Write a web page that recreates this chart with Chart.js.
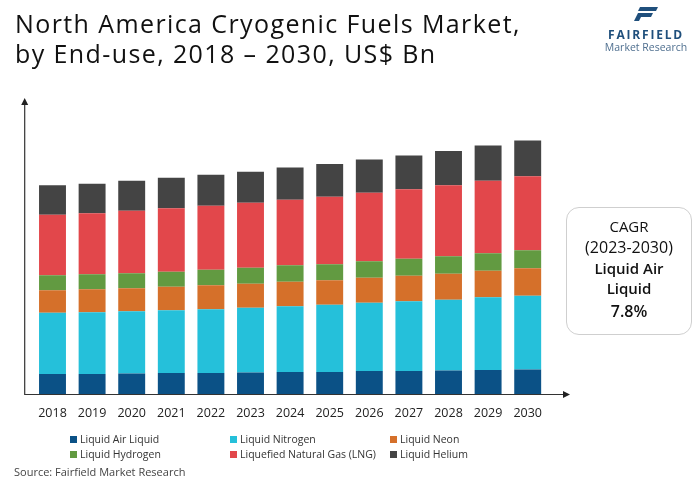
<!DOCTYPE html>
<html>
<head>
<meta charset="utf-8">
<script src="https://cdn.jsdelivr.net/npm/chart.js@4.4.0/dist/chart.umd.min.js"></script>
<style>
  body { margin: 0; background: #fff; font-family: "Open Sans", sans-serif; }
  #wrap { position: relative; width: 700px; height: 491px; overflow: hidden; }
  #chart { position: absolute; left: 0; top: 0; }
  .title { position: absolute; left: 15px; top: 8px; font-size: 25px; letter-spacing: 1.4px; line-height: 30px; color: #111; }
  .logo { position: absolute; left: 599px; top: 5px; width: 94px; text-align: center; }
  .logo .brand { font-size: 12px; font-weight: 700; letter-spacing: 1.8px; color: #1f4f7c; margin-top: 1px; line-height: 13px; }
  .logo .sub { font-size: 10.5px; color: #4f6f8f; line-height: 12px; }
  .cagr { position: absolute; left: 566px; top: 207px; width: 124px; height: 126px; border: 1px solid #cfcfcf; border-radius: 13px; text-align: center; color: #111; }
  .legend { position: absolute; left: 0; top: 432px; width: 700px; font-size: 10.5px; color: #333; }
  .legend .item { position: absolute; white-space: nowrap; line-height: 14px; }
  .legend .box { display: inline-block; width: 7px; height: 7px; margin-right: 3px; vertical-align: 0px; }
  .source { position: absolute; left: 14px; top: 464px; font-size: 11px; color: #444; }
</style>
</head>
<body>
<div id="wrap">
  <canvas id="chart" width="700" height="491"></canvas>
  <div class="title">North America Cryogenic Fuels Market,<br>by End-use, 2018 – 2030, US$ Bn</div>
  <div class="logo">
    <svg width="26" height="16" viewBox="0 0 26 16">
      <polygon points="7,1 25,1 23,5 5,5" fill="#1f4f7c"/>
      <polygon points="5,7 20,7 18,11 8,11 6,15 1,15" fill="#1f4f7c"/>
    </svg>
    <div class="brand">FAIRFIELD</div>
    <div class="sub">Market Research</div>
  </div>
  <div class="cagr">
    <div style="font-size:15px;margin-top:8px;line-height:20px;">CAGR</div>
    <div style="font-size:16px;line-height:22px;">(2023-2030)</div>
    <div style="font-size:15px;font-weight:600;line-height:20px;">Liquid Air</div>
    <div style="font-size:15px;font-weight:600;line-height:20px;">Liquid</div>
    <div style="font-size:16px;font-weight:600;line-height:26px;">7.8%</div>
  </div>
  <div class="legend" id="legend"></div>
  <div class="source">Source: Fairfield Market Research</div>
</div>
<script>
const years = ['2018','2019','2020','2021','2022','2023','2024','2025','2026','2027','2028','2029','2030'];

const liquidAirLiquid = [2.0, 2.0, 2.05, 2.1, 2.1, 2.15, 2.2, 2.2, 2.3, 2.3, 2.35, 2.4, 2.45];
const liquidNitrogen  = [6.1, 6.15, 6.2, 6.25, 6.35, 6.45, 6.55, 6.7, 6.8, 6.95, 7.05, 7.25, 7.35];
const liquidNeon      = [2.25, 2.3, 2.3, 2.35, 2.4, 2.4, 2.45, 2.45, 2.5, 2.55, 2.6, 2.65, 2.75];
const liquidHydrogen  = [1.5, 1.5, 1.5, 1.5, 1.55, 1.6, 1.65, 1.6, 1.65, 1.7, 1.75, 1.75, 1.8];
const lng             = [6.05, 6.1, 6.25, 6.35, 6.4, 6.5, 6.55, 6.75, 6.85, 6.95, 7.1, 7.25, 7.4];
const liquidHelium    = [2.95, 2.95, 3.0, 3.05, 3.1, 3.1, 3.2, 3.25, 3.3, 3.35, 3.4, 3.5, 3.55];

const series = [
  { label: 'Liquid Air Liquid', data: liquidAirLiquid, color: '#0b5186' },
  { label: 'Liquid Nitrogen', data: liquidNitrogen, color: '#25c0da' },
  { label: 'Liquid Neon', data: liquidNeon, color: '#d5702a' },
  { label: 'Liquid Hydrogen', data: liquidHydrogen, color: '#629a41' },
  { label: 'Liquefied Natural Gas (LNG)', data: lng, color: '#e2474b' },
  { label: 'Liquid Helium', data: liquidHelium, color: '#444444' }
];

// arrows for both axes, drawn outside the bars
const arrowAxes = {
  id: 'arrowAxes',
  afterDraw(chart) {
    const { ctx, chartArea } = chart;
    const x0 = chartArea.left - 8;
    const y0 = chartArea.bottom + 0.5;
    const yTop = 98;
    const xEnd = 570;
    ctx.save();
    ctx.strokeStyle = '#333';
    ctx.fillStyle = '#222';
    ctx.lineWidth = 1.2;
    ctx.beginPath();
    ctx.moveTo(x0, yTop + 4);
    ctx.lineTo(x0, y0);
    ctx.lineTo(xEnd - 4, y0);
    ctx.stroke();
    ctx.beginPath();
    ctx.moveTo(x0, yTop);
    ctx.lineTo(x0 - 3.5, yTop + 7);
    ctx.lineTo(x0 + 3.5, yTop + 7);
    ctx.closePath();
    ctx.fill();
    ctx.beginPath();
    ctx.moveTo(xEnd, y0);
    ctx.lineTo(xEnd - 7, y0 - 3.5);
    ctx.lineTo(xEnd - 7, y0 + 3.5);
    ctx.closePath();
    ctx.fill();
    ctx.restore();
  }
};

new Chart(document.getElementById('chart'), {
  type: 'bar',
  data: {
    labels: years,
    datasets: series.map(s => ({
      label: s.label,
      data: s.data,
      backgroundColor: s.color,
      borderWidth: 0,
      barPercentage: 0.68,
      categoryPercentage: 1
    }))
  },
  options: {
    responsive: false,
    animation: false,
    layout: { padding: { left: 32.7, right: 152.5, top: 93.5, bottom: 58 } },
    scales: {
      x: {
        stacked: true,
        grid: { display: false, drawTicks: false },
        border: { display: false },
        ticks: { color: '#222', padding: 12, font: { family: 'Open Sans', size: 12.5 } }
      },
      y: {
        stacked: true,
        display: false,
        min: 0,
        max: 30
      }
    },
    plugins: {
      legend: { display: false },
      tooltip: { enabled: false }
    }
  },
  plugins: [arrowAxes]
});

// html legend, three columns by two rows
const legendEl = document.getElementById('legend');
const colX = [70, 230, 390];
series.forEach((s, i) => {
  const item = document.createElement('div');
  item.className = 'item';
  item.style.left = colX[i % 3] + 'px';
  item.style.top = (Math.floor(i / 3) * 15) + 'px';
  item.innerHTML = '<span class="box" style="background:' + s.color + '"></span>' + s.label;
  legendEl.appendChild(item);
});
</script>
</body>
</html>
